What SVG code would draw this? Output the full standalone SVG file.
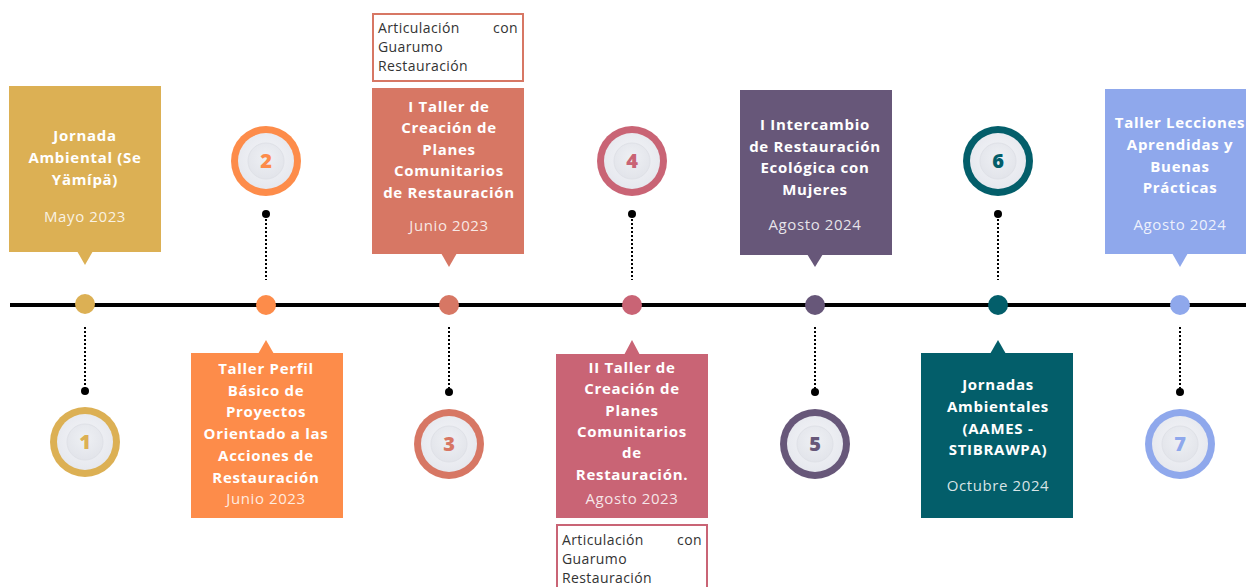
<svg xmlns="http://www.w3.org/2000/svg" width="1246" height="587" viewBox="0 0 1246 587">
<defs>
<radialGradient id="face" cx="50%" cy="45%" r="55%">
<stop offset="0%" stop-color="#f4f5f8"/>
<stop offset="100%" stop-color="#e6e8ee"/>
</radialGradient>
<radialGradient id="inner" cx="50%" cy="40%" r="60%">
<stop offset="0%" stop-color="#eef0f4"/>
<stop offset="100%" stop-color="#e2e4ea"/>
</radialGradient>
</defs>
<style>
.t{font-family:"Open Sans","Liberation Sans",sans-serif;font-weight:700;font-size:15px;letter-spacing:0.7px;fill:#fff;text-anchor:middle}
.d{font-family:"Open Sans","Liberation Sans",sans-serif;font-weight:400;font-size:15px;letter-spacing:0.6px;fill:#fff;fill-opacity:0.85;text-anchor:middle}
.a{font-family:"Open Sans","Liberation Sans",sans-serif;font-weight:400;font-size:14px;letter-spacing:0.4px;fill:#333}
.n{font-family:"Open Sans","Liberation Sans",sans-serif;font-weight:800;font-size:20px;text-anchor:middle}
.dot{stroke:none;fill:#000}
.dl{stroke:#000;stroke-width:2;stroke-dasharray:2,2;fill:none}
.face{fill:url(#face)}
.inn{fill:url(#inner);stroke:#dfe1e7;stroke-width:1}
</style>
<rect width="1246" height="587" fill="#fff"/>
<g id="connectors">
<line x1="10" y1="305" x2="1246" y2="305" stroke="#000" stroke-width="4"/>
<line class="dl" x1="85" y1="327" x2="85" y2="390"/><circle class="dot" cx="85" cy="391" r="4"/>
<line class="dl" x1="266" y1="215" x2="266" y2="280"/><circle class="dot" cx="266" cy="214" r="4"/>
<line class="dl" x1="449" y1="327" x2="449" y2="391"/><circle class="dot" cx="449" cy="392" r="4"/>
<line class="dl" x1="632" y1="215" x2="632" y2="280"/><circle class="dot" cx="632" cy="214" r="4"/>
<line class="dl" x1="815" y1="327" x2="815" y2="391"/><circle class="dot" cx="815" cy="392" r="4"/>
<line class="dl" x1="998" y1="215" x2="998" y2="280"/><circle class="dot" cx="998" cy="214" r="4"/>
<line class="dl" x1="1180" y1="327" x2="1180" y2="391"/><circle class="dot" cx="1180" cy="392" r="4"/>
</g>
<g id="markers">
<circle cx="85" cy="304" r="10" fill="#DCB054"/>
<circle cx="266" cy="305" r="10" fill="#FD8C4A"/>
<circle cx="449" cy="305" r="10" fill="#D77764"/>
<circle cx="632" cy="305" r="10" fill="#C96475"/>
<circle cx="815" cy="305" r="10" fill="#675779"/>
<circle cx="998" cy="305" r="10" fill="#035E6A"/>
<circle cx="1180" cy="305" r="10" fill="#8FA8EC"/>
</g>
<g id="event1">
<rect x="9" y="86" width="152" height="166" fill="#DCB054"/>
<polygon points="77,251 93,251 85,265" fill="#DCB054"/>
<text class="t" x="85" y="141">Jornada</text>
<text class="t" x="85" y="163">Ambiental (Se</text>
<text class="t" x="85" y="185">Yämípä)</text>
<text class="d" x="85" y="222">Mayo 2023</text>
</g>
<g id="num1">
<circle cx="85" cy="442" r="35" fill="#DCB054"/>
<circle class="face" cx="85" cy="442" r="28"/>
<circle class="inn" cx="85" cy="442" r="18"/>
<text class="n" x="85" y="449" fill="#DCB054">1</text>
</g>
<g id="num2">
<circle cx="266" cy="161" r="35" fill="#FD8C4A"/>
<circle class="face" cx="266" cy="161" r="28"/>
<circle class="inn" cx="266" cy="161" r="18"/>
<text class="n" x="266" y="168" fill="#FD8C4A">2</text>
</g>
<g id="event2">
<rect x="191" y="353" width="152" height="165" fill="#FD8C4A"/>
<polygon points="258,354 274,354 266,340" fill="#FD8C4A"/>
<text class="t" x="266" y="374">Taller Perfil</text>
<text class="t" x="266" y="396">Básico de</text>
<text class="t" x="266" y="417">Proyectos</text>
<text class="t" x="266" y="439">Orientado a las</text>
<text class="t" x="266" y="461">Acciones de</text>
<text class="t" x="266" y="483">Restauración</text>
<text class="d" x="266" y="504">Junio 2023</text>
</g>
<g id="note3">
<rect x="373" y="14" width="150" height="67" fill="#fff" stroke="#D77764" stroke-width="2"/>
<text class="a" x="378" y="33">Articulación</text>
<text class="a" x="518" y="33" text-anchor="end">con</text>
<text class="a" x="378" y="52">Guarumo</text>
<text class="a" x="378" y="71">Restauración</text>
</g>
<g id="event3">
<rect x="372" y="88" width="152" height="166" fill="#D77764"/>
<polygon points="441,253 457,253 449,267" fill="#D77764"/>
<text class="t" x="449" y="112">I Taller de</text>
<text class="t" x="449" y="133">Creación de</text>
<text class="t" x="449" y="155">Planes</text>
<text class="t" x="449" y="176">Comunitarios</text>
<text class="t" x="449" y="198">de Restauración</text>
<text class="d" x="449" y="231">Junio 2023</text>
</g>
<g id="num3">
<circle cx="449" cy="444" r="35" fill="#D77764"/>
<circle class="face" cx="449" cy="444" r="28"/>
<circle class="inn" cx="449" cy="444" r="18"/>
<text class="n" x="449" y="451" fill="#D77764">3</text>
</g>
<g id="num4">
<circle cx="632" cy="161" r="35" fill="#C96475"/>
<circle class="face" cx="632" cy="161" r="28"/>
<circle class="inn" cx="632" cy="161" r="18"/>
<text class="n" x="632" y="168" fill="#C96475">4</text>
</g>
<g id="event4">
<rect x="556" y="354" width="152" height="164" fill="#C96475"/>
<polygon points="624,355 640,355 632,340" fill="#C96475"/>
<text class="t" x="632" y="373">II Taller de</text>
<text class="t" x="632" y="394">Creación de</text>
<text class="t" x="632" y="416">Planes</text>
<text class="t" x="632" y="437">Comunitarios</text>
<text class="t" x="632" y="458">de</text>
<text class="t" x="632" y="480">Restauración.</text>
<text class="d" x="632" y="504">Agosto 2023</text>
</g>
<g id="note4">
<rect x="557" y="525" width="150" height="70" fill="#fff" stroke="#C96475" stroke-width="2"/>
<text class="a" x="562" y="545">Articulación</text>
<text class="a" x="702" y="545" text-anchor="end">con</text>
<text class="a" x="562" y="564">Guarumo</text>
<text class="a" x="562" y="583">Restauración</text>
</g>
<g id="event5">
<rect x="740" y="90" width="152" height="165" fill="#675779"/>
<polygon points="807,254 823,254 815,267" fill="#675779"/>
<text class="t" x="815" y="130">I Intercambio</text>
<text class="t" x="815" y="152">de Restauración</text>
<text class="t" x="815" y="173">Ecológica con</text>
<text class="t" x="815" y="195">Mujeres</text>
<text class="d" x="815" y="230">Agosto 2024</text>
</g>
<g id="num5">
<circle cx="815" cy="444" r="35" fill="#675779"/>
<circle class="face" cx="815" cy="444" r="28"/>
<circle class="inn" cx="815" cy="444" r="18"/>
<text class="n" x="815" y="451" fill="#675779">5</text>
</g>
<g id="num6">
<circle cx="998" cy="161" r="35" fill="#035E6A"/>
<circle class="face" cx="998" cy="161" r="28"/>
<circle class="inn" cx="998" cy="161" r="18"/>
<text class="n" x="998" y="168" fill="#035E6A">6</text>
</g>
<g id="event6">
<rect x="921" y="353" width="152" height="165" fill="#035E6A"/>
<polygon points="990,354 1006,354 998,340" fill="#035E6A"/>
<text class="t" x="998" y="390">Jornadas</text>
<text class="t" x="998" y="412">Ambientales</text>
<text class="t" x="998" y="434">(AAMES -</text>
<text class="t" x="998" y="455">STIBRAWPA)</text>
<text class="d" x="998" y="491">Octubre 2024</text>
</g>
<g id="event7">
<rect x="1105" y="89" width="152" height="165" fill="#8FA8EC"/>
<polygon points="1172,253 1188,253 1180,267" fill="#8FA8EC"/>
<text class="t" x="1180" y="128">Taller Lecciones</text>
<text class="t" x="1180" y="150">Aprendidas y</text>
<text class="t" x="1180" y="172">Buenas</text>
<text class="t" x="1180" y="193">Prácticas</text>
<text class="d" x="1180" y="230">Agosto 2024</text>
</g>
<g id="num7">
<circle cx="1180" cy="444" r="35" fill="#8FA8EC"/>
<circle class="face" cx="1180" cy="444" r="28"/>
<circle class="inn" cx="1180" cy="444" r="18"/>
<text class="n" x="1180" y="451" fill="#8FA8EC">7</text>
</g>
</svg>
